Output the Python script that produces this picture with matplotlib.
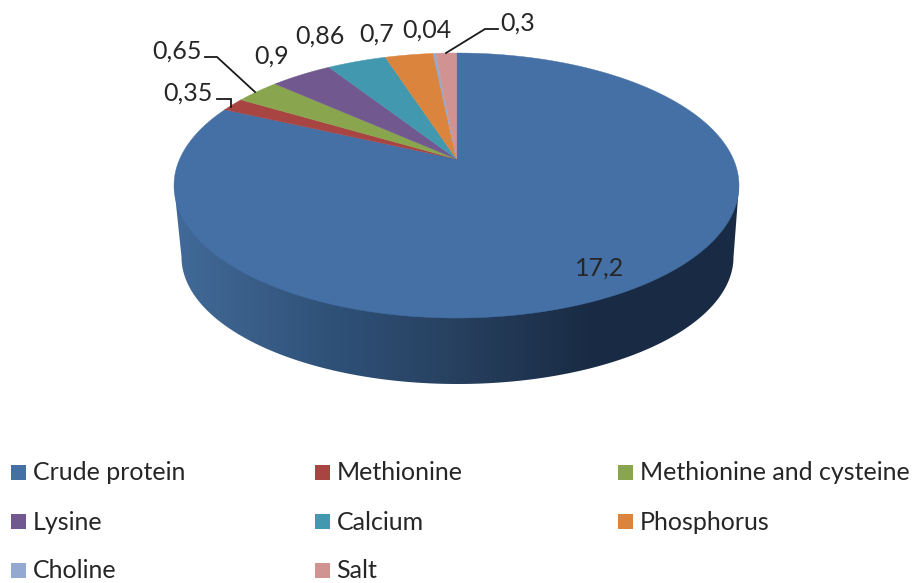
import numpy as np
import matplotlib
matplotlib.use("Agg")
import matplotlib.pyplot as plt
from matplotlib.colors import LinearSegmentedColormap
from matplotlib.patches import Rectangle, Polygon

categories = ["Crude protein", "Methionine", "Methionine and cysteine", "Lysine",
              "Calcium", "Phosphorus", "Choline", "Salt"]
values = [17.2, 0.35, 0.65, 0.9, 0.86, 0.7, 0.04, 0.3]
value_labels = ["17,2", "0,35", "0,65", "0,9", "0,86", "0,7", "0,04", "0,3"]
colors = ["#4570a5", "#a84442", "#89a54e", "#71588f", "#4198af", "#db843d", "#93a9cf", "#d19392"]

label_xy = [(600, 268), (188, 93), (177, 51), (272, 56), (320, 36), (377, 34), (427, 30), (518, 23)]
TEXT = "#262626"
FS = 18
plt.rcParams["font.family"] = ["Lato", "DejaVu Sans"]

W, H = 913, 583
fig = plt.figure(figsize=(W / 100, H / 100), dpi=100)
ax = fig.add_axes([0, 0, 1, 1])

# perspective projection of the unit disc onto the page
CX, AY, R, A, B = 456.5, 159.0, 276.8, 127.2, 0.2


def project(theta):
    u, v = np.sin(theta), np.cos(theta)
    d = 1 + B * v
    return CX + R * u / d, AY - A * v / d


# side wall with a horizontal shading
BCX, BCY, BRX, BRY = 457.5, 257.0, 276.0, 127.0
t = np.linspace(np.pi, 0, 200)
wall_x = np.r_[174.0, BCX + BRX * np.cos(t), 739.0]
wall_y = np.r_[185.0, BCY + BRY * np.sin(t), 185.0]
cmap = LinearSegmentedColormap.from_list(
    "wall",
    [(0.0, "#41699a"), (0.05, "#3f6692"), (0.28, "#2f5178"), (0.5, "#27405f"),
     (0.74, "#192b44"), (1.0, "#1a2c44")],
)
im = ax.imshow(np.linspace(0, 1, 512)[None, :], extent=(174, 739, 400, 180),
               cmap=cmap, aspect="auto", zorder=1)
clip = Polygon(np.c_[wall_x, wall_y], closed=True, transform=ax.transData, fc="none", ec="none")
ax.add_patch(clip)
im.set_clip_path(clip)

# top face
frac = np.cumsum([0] + values) / sum(values)
for i, c in enumerate(colors):
    th = 2 * np.pi * np.linspace(frac[i], frac[i + 1], 240)
    x, y = project(th)
    ax.fill(np.r_[CX, x], np.r_[AY, y], facecolor=c, edgecolor=c, linewidth=0.3, zorder=2)

for s, (x, y) in zip(value_labels, label_xy):
    ax.text(x, y, s, fontsize=FS, color=TEXT, ha="center", va="center", zorder=4)

# leader lines
for lx, ly in [((205, 217, 255), (57, 57, 92)),
               ((217, 231, 231), (99, 99, 107)),
               ((498, 485, 446), (29, 29, 53))]:
    ax.plot(lx, ly, color="#1a1a1a", lw=1.3, zorder=3, solid_joinstyle="miter")

# legend
col_x = [11, 314.5, 618]
row_y = [472.5, 521.5, 570]
for i, (name, c) in enumerate(zip(categories, colors)):
    x0, yc = col_x[i % 3], row_y[i // 3]
    ax.add_patch(Rectangle((x0, yc - 7.5), 15, 15, facecolor=c, edgecolor="none"))
    ax.text(x0 + 22, yc + 0.5, name, fontsize=FS, color=TEXT, ha="left", va="center")

ax.set_xlim(0, W)
ax.set_ylim(H, 0)
ax.axis("off")
fig.savefig("out.png", dpi=100, facecolor="white")
